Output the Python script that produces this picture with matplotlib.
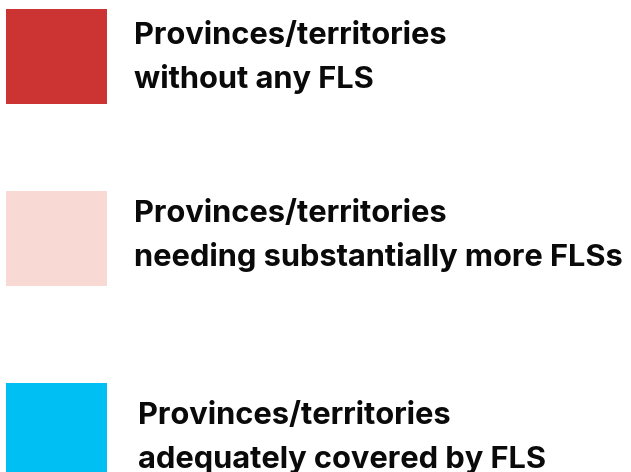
import matplotlib
matplotlib.use("Agg")
import matplotlib.pyplot as plt
from matplotlib.patches import Rectangle

# Legend content
labels = [
    "Provinces/territories\nwithout any FLS",
    "Provinces/territories\nneeding substantially more FLSs",
    "Provinces/territories\nadequately covered by FLS",
]
colors = ["#CC3333", "#F9D9D3", "#00BFF3"]

# Layout (pixel coordinates, top-left origin)
W, H = 631, 472
swatch_x, swatch_w, swatch_h = 6, 101, 95
swatch_tops = [9, 191, 383]
text_x = [134, 134, 138]
first_baselines = [44, 222, 424]
line_gap = 44

fig = plt.figure(figsize=(W / 100, H / 100), dpi=100)
ax = fig.add_axes([0, 0, 1, 1])
ax.set_xlim(0, W)
ax.set_ylim(H, 0)
ax.axis("off")

for lab, col, top, tx, bl in zip(labels, colors, swatch_tops, text_x, first_baselines):
    ax.add_patch(Rectangle((swatch_x, top), swatch_w, swatch_h, facecolor=col, edgecolor="none"))
    for i, line in enumerate(lab.split("\n")):
        ax.text(tx, bl + i * line_gap, line, fontsize=22.2, fontweight="bold",
                family=["Inter", "DejaVu Sans"], color="#0a0a0a", va="baseline", ha="left")

fig.savefig("out.png", dpi=100)
